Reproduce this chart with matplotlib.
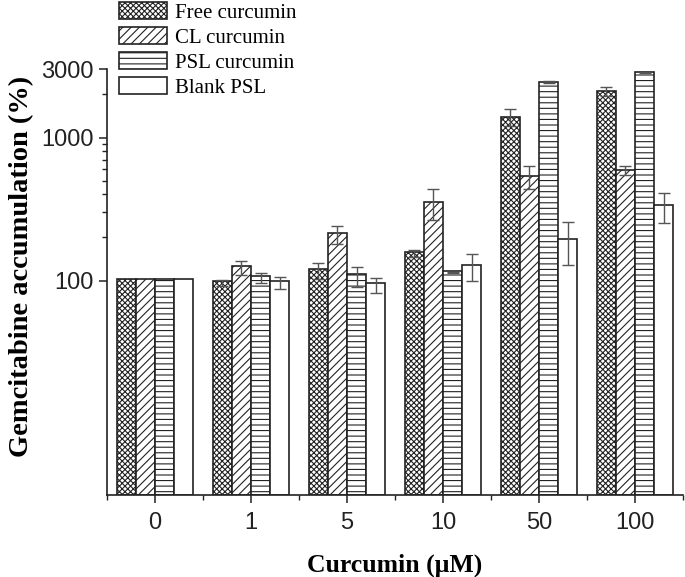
import matplotlib
matplotlib.use("Agg")
import matplotlib.pyplot as plt
import numpy as np

plt.rcParams['hatch.linewidth'] = 0.8

categories = ["0", "1", "5", "10", "50", "100"]
series = ["Free curcumin", "CL curcumin", "PSL curcumin", "Blank PSL"]
free_vals = [100, 96, 117, 154, 1394, 2110]
free_err = [0, 5, 15, 9, 190, 150]
cl_vals = [100, 123, 210, 350, 535, 590]
cl_err = [0, 13, 30, 85, 100, 40]
psl_vals = [100, 104, 107, 114, 2455, 2853]
psl_err = [0, 8, 17, 1, 40, 40]
blank_vals = [100, 96, 93, 126, 193, 332]
blank_err = [0, 9, 11, 26, 65, 78]

values = [free_vals, cl_vals, psl_vals, blank_vals]
errors = [free_err, cl_err, psl_err, blank_err]
hatches = ["xxxxxx", "////", "---", ""]

fig = plt.figure(figsize=(6.85, 5.77), dpi=100)
ax = fig.add_axes([107/685, 1-495/577, (683-107)/685, (495-66)/577])

x = np.arange(len(categories))
w = 0.2
offsets = [-1.5, -0.5, 0.5, 1.5]
handles = []
for i in range(4):
    b = ax.bar(x + offsets[i]*w, values[i], w, bottom=10**0.5,
               color="white", edgecolor="#222222", linewidth=1.2,
               hatch=hatches[i], label=series[i])
    handles.append(b)
    vals = np.array(values[i], dtype=float)
    errs = np.array(errors[i], dtype=float)
    m = errs > 0
    ax.errorbar((x + offsets[i]*w)[m], vals[m], yerr=errs[m], fmt="none",
                ecolor="#555555", elinewidth=1.0, capsize=4, capthick=1.0)

ax.set_yscale("log")
ax.set_ylim(10**0.5, 10**3.5)
ax.set_xlim(-0.5, 5.5)
ax.set_yticks([100, 1000, 3000])
ax.set_yticklabels(["100", "1000", "3000"])
ax.set_yticks([200, 300, 400, 500, 600, 700, 800, 900, 2000], minor=True)
ax.yaxis.set_minor_formatter(matplotlib.ticker.NullFormatter())
ax.set_xticks(x)
ax.set_xticklabels(categories)
ax.set_xticks(np.arange(-0.5, 5.6, 1.0), minor=True)

for s in ["top", "right"]:
    ax.spines[s].set_visible(False)
for s in ["left", "bottom"]:
    ax.spines[s].set_linewidth(1.2)
    ax.spines[s].set_color("#222222")
ax.spines["left"].set_bounds(10**0.5, 3000)

ax.tick_params(axis="both", which="major", direction="out", length=6, width=1.1,
               labelsize=17, colors="#222222")
ax.tick_params(axis="x", which="major", pad=6)
ax.tick_params(axis="both", which="minor", direction="out", length=3.5, width=1.0,
               colors="#222222")
for lab in ax.get_xticklabels() + ax.get_yticklabels():
    lab.set_fontfamily("Liberation Sans")

ax.set_xlabel("Curcumin (μM)", fontfamily="Liberation Serif", fontweight="bold",
              fontsize=18.5, labelpad=14)
ax.set_ylabel("Gemcitabine accumulation (%)", fontfamily="Liberation Serif",
              fontweight="bold", fontsize=20.5, labelpad=8)
ax.yaxis.set_label_coords((34-107)/576, (495-266)/(495-66))

fig.legend(handles=handles, labels=series, loc="upper left",
           bbox_to_anchor=(117/685, 1.0), frameon=False,
           prop={"family": "Liberation Serif", "size": 15},
           handlelength=2.3, handleheight=0.85, handletextpad=0.4,
           labelspacing=0.22, borderaxespad=0.0, borderpad=0.1)

fig.savefig("out.png", dpi=100)
